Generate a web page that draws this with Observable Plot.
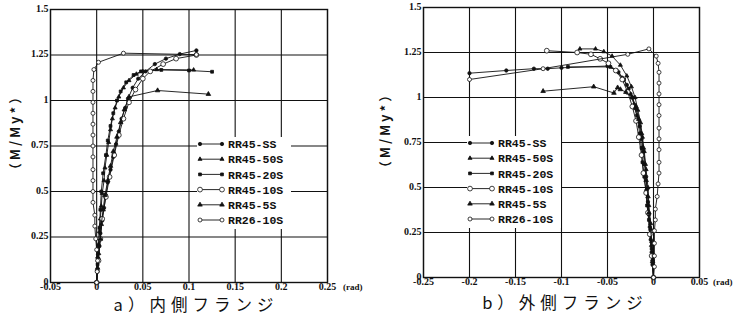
<!DOCTYPE html>
<html><head><meta charset="utf-8">
<script src="https://cdn.jsdelivr.net/npm/d3@7"></script>
<script src="https://cdn.jsdelivr.net/npm/@observablehq/plot@0.6"></script>
<style>
html,body{margin:0;padding:0;background:#fff;}
body{width:733px;height:324px;overflow:hidden;position:relative;}
.panel{position:absolute;top:0;}
.cap{position:absolute;font-family:"Noto Sans CJK JP",sans-serif;font-size:16.5px;line-height:1;letter-spacing:5px;color:#111;white-space:nowrap;transform:translateX(-50%);}
.ylab{position:absolute;font-family:"Noto Sans CJK JP",sans-serif;font-size:13px;line-height:1;font-weight:bold;color:#111;white-space:nowrap;transform:translate(-50%,-50%) rotate(-90deg);letter-spacing:3px;}
.rad{position:absolute;font-family:"Liberation Serif",serif;font-size:9px;font-weight:bold;color:#111;white-space:nowrap;}
.leg{position:absolute;}
</style>
</head><body>
<script>
// ---------- data ----------
const seriesNames = ["RR45-SS","RR45-50S","RR45-20S","RR45-10S","RR45-5S","RR26-10S"];
const yTicks = [0,0.25,0.5,0.75,1,1.25,1.5];
const innerXTicks = [-0.05,0,0.05,0.1,0.15,0.2,0.25];
const outerXTicks = [-0.25,-0.2,-0.15,-0.1,-0.05,0,0.05];
const captions = ["a）内側フランジ","b）外側フランジ"];
const yLabel = "（M/My*）";
const xUnit = "(rad)";

// a) inner flange  [rotation (rad), M/My*]
const innerSS  = [[0,0],[0.001,0.06],[0.002,0.13],[0.003,0.2],[0.004,0.27],[0.006,0.34],[0.008,0.41],[0.010,0.48],[0.012,0.55],[0.015,0.62],[0.018,0.69],[0.021,0.76],[0.024,0.83],[0.027,0.9],[0.031,0.96],[0.034,1.01],[0.039,1.07],[0.045,1.12],[0.053,1.16],[0.063,1.2],[0.075,1.23],[0.09,1.255],[0.108,1.275]];
const inner50S = [[0,0],[0.0005,0.07],[0.001,0.14],[0.002,0.21],[0.003,0.28],[0.004,0.35],[0.005,0.42],[0.006,0.49],[0.008,0.56],[0.009,0.63],[0.011,0.7],[0.013,0.77],[0.015,0.84],[0.017,0.9],[0.020,0.96],[0.024,1.02],[0.029,1.07],[0.035,1.11],[0.043,1.145],[0.05,1.16],[0.065,1.17],[0.105,1.168]];
const inner20S = [[0,0],[0.001,0.1],[0.002,0.2],[0.003,0.3],[0.004,0.4],[0.005,0.5],[0.007,0.6],[0.01,0.7],[0.012,0.78],[0.015,0.86],[0.018,0.93],[0.022,1.0],[0.026,1.05],[0.032,1.1],[0.04,1.14],[0.048,1.16],[0.07,1.168],[0.1,1.165],[0.125,1.158]];
const inner10S = [[0,0],[0.002,0.12],[0.004,0.24],[0.006,0.35],[0.010,0.47],[0.014,0.58],[0.019,0.7],[0.024,0.81],[0.029,0.9],[0.035,0.99],[0.042,1.06],[0.05,1.12],[0.058,1.16],[0.072,1.2],[0.086,1.23],[0.108,1.25]];
const inner5S  = [[0,0],[0.001,0.08],[0.002,0.16],[0.004,0.24],[0.005,0.32],[0.007,0.4],[0.009,0.48],[0.012,0.56],[0.015,0.64],[0.018,0.72],[0.022,0.8],[0.026,0.88],[0.03,0.95],[0.035,1.02],[0.066,1.055],[0.121,1.035]];
const innerRR26 = [[0,0],[0.0005,0.06],[0.001,0.12],[0,0.18],[-0.001,0.24],[-0.002,0.31],[-0.002,0.37],[-0.004,0.44],[-0.004,0.5],[-0.004,0.56],[-0.004,0.62],[-0.004,0.69],[-0.004,0.75],[-0.004,0.81],[-0.004,0.87],[-0.004,0.93],[-0.004,0.99],[-0.004,1.05],[-0.004,1.11],[-0.003,1.17],[0.002,1.21],[0.029,1.26],[0.108,1.252]];

// b) outer flange
const outerSS  = [[0,0],[-0.001,0.07],[-0.002,0.14],[-0.003,0.21],[-0.004,0.28],[-0.005,0.35],[-0.006,0.42],[-0.007,0.49],[-0.008,0.56],[-0.01,0.63],[-0.011,0.7],[-0.013,0.77],[-0.015,0.84],[-0.018,0.9],[-0.021,0.96],[-0.025,1.02],[-0.029,1.07],[-0.034,1.11],[-0.04,1.15],[-0.05,1.175],[-0.1,1.165],[-0.115,1.16],[-0.13,1.16],[-0.16,1.15],[-0.2,1.135]];
const outer50S = [[0,0],[-0.001,0.1],[-0.002,0.2],[-0.003,0.3],[-0.005,0.4],[-0.006,0.5],[-0.008,0.6],[-0.01,0.7],[-0.012,0.78],[-0.014,0.86],[-0.017,0.93],[-0.02,1.0],[-0.024,1.06],[-0.029,1.12],[-0.036,1.18],[-0.045,1.23],[-0.054,1.255],[-0.063,1.27],[-0.08,1.27]];
const outer20S = [[0,0],[-0.001,0.08],[-0.002,0.16],[-0.004,0.24],[-0.005,0.32],[-0.007,0.4],[-0.008,0.48],[-0.01,0.56],[-0.012,0.64],[-0.013,0.72],[-0.015,0.8],[-0.017,0.87],[-0.02,0.94],[-0.023,1.0],[-0.027,1.05],[-0.032,1.1],[-0.038,1.14],[-0.047,1.17],[-0.093,1.17]];
const outer10S = [[0,0],[-0.002,0.12],[-0.004,0.24],[-0.006,0.36],[-0.008,0.47],[-0.011,0.58],[-0.013,0.68],[-0.016,0.78],[-0.019,0.87],[-0.023,0.95],[-0.028,1.03],[-0.034,1.1],[-0.041,1.15],[-0.049,1.19],[-0.058,1.215],[-0.068,1.24],[-0.083,1.25],[-0.116,1.26]];
const outer5S  = [[0,0],[-0.001,0.09],[-0.002,0.18],[-0.003,0.27],[-0.005,0.36],[-0.006,0.45],[-0.008,0.54],[-0.009,0.63],[-0.011,0.72],[-0.013,0.8],[-0.016,0.88],[-0.019,0.95],[-0.023,1.0],[-0.03,1.03],[-0.036,1.045],[-0.039,1.055],[-0.043,1.025],[-0.065,1.06],[-0.12,1.035]];
const outerRR26 = [[0,0],[0.001,0.06],[0.001,0.12],[0.001,0.19],[0.001,0.26],[0.002,0.32],[0.002,0.38],[0.004,0.45],[0.005,0.52],[0.006,0.58],[0.006,0.64],[0.006,0.71],[0.006,0.77],[0.006,0.83],[0.006,0.9],[0.006,0.96],[0.006,1.02],[0.006,1.08],[0.006,1.14],[0.005,1.19],[0.003,1.23],[-0.005,1.27],[-0.028,1.24],[-0.12,1.16],[-0.2,1.1]];

const innerSeries = [innerSS, inner50S, inner20S, inner10S, inner5S, innerRR26];
const outerSeries = [outerSS, outer50S, outer20S, outer10S, outer5S, outerRR26];

// ---------- styles ----------
const markerStyle = {
  "RR45-SS":  {symbol:"circle",   fill:"#111", stroke:"#111", r:1.7},
  "RR45-50S": {symbol:"triangle", fill:"#111", stroke:"#111", r:1.5},
  "RR45-20S": {symbol:"square",   fill:"#111", stroke:"#111", r:1.6},
  "RR45-10S": {symbol:"circle",   fill:"#fff", stroke:"#111", r:2.4},
  "RR45-5S":  {symbol:"triangle", fill:"#111", stroke:"#111", r:1.7},
  "RR26-10S": {symbol:"circle",   fill:"#fff", stroke:"#111", r:2.0}
};

function toRows(seriesList){
  const rows = [];
  seriesList.forEach((pts,i)=>pts.forEach(([x,y])=>rows.push({s:seriesNames[i], x, y})));
  return rows;
}

function makePlot(seriesList, xDomain, xTicks, m){
  const rows = toRows(seriesList);
  const marks = [
    Plot.gridX(xTicks, {stroke:"#111", strokeOpacity:1, strokeWidth:1.1}),
    Plot.gridY(yTicks, {stroke:"#111", strokeOpacity:1, strokeWidth:1.1}),
    Plot.frame({stroke:"#111", strokeWidth:1.4}),
    Plot.axisX(xTicks, {tickSize:0, tickPadding:0, tickFormat:d=>String(d), label:null, fontWeight:"bold"}),
    Plot.axisY(yTicks, {tickSize:0, tickPadding:2, dy:-1, tickFormat:d=>String(d), label:null, fontWeight:"bold"})
  ];
  seriesNames.forEach(name=>{
    const st = markerStyle[name];
    const data = rows.filter(r=>r.s===name);
    marks.push(Plot.line(data, {x:"x", y:"y", stroke:"#111", strokeWidth:0.9}));
    marks.push(Plot.dot(data, {x:"x", y:"y", symbol:()=>st.symbol, r:st.r, fill:st.fill, stroke:st.stroke, strokeWidth:0.8}));
  });
  return Plot.plot({
    width:m.width, height:294,
    marginLeft:m.left, marginRight:m.right, marginTop:m.top, marginBottom:294-m.bottom,
    x:{domain:xDomain, label:null},
    y:{domain:[0,1.5], label:null},
    style:{fontFamily:"'Liberation Serif', serif", fontSize:"10px", color:"#111", background:"transparent", overflow:"visible"},
    marks
  });
}

function addPanel(left, seriesList, xDomain, xTicks, m, caption, capX, capY, ylabX, ylabY, radX, radY, legX, legY){
  const div = document.createElement("div");
  div.className = "panel";
  div.style.left = left + "px";
  div.appendChild(makePlot(seriesList, xDomain, xTicks, m));
  document.body.appendChild(div);

  // legend
  const legW = 94, legH = 92, rowH = 15.2;
  const svg = d3.create("svg").attr("class","leg").attr("width",legW).attr("height",legH)
    .style("left",(legX)+"px").style("top",(legY)+"px");
  svg.append("rect").attr("x",0).attr("y",0).attr("width",legW).attr("height",legH).attr("fill","#fff");
  seriesNames.forEach((name,i)=>{
    const st = markerStyle[name];
    const cy = 7 + i*rowH;
    const g = svg.append("g");
    g.append("line").attr("x1",3).attr("x2",25).attr("y1",cy).attr("y2",cy).attr("stroke","#111").attr("stroke-width",0.9);
    const sym = st.symbol==="circle"?d3.symbolCircle:st.symbol==="square"?d3.symbolSquare:d3.symbolTriangle;
    const size = Math.PI*st.r*st.r;
    [3,25].forEach(px=>{
      g.append("path").attr("d",d3.symbol(sym,size)()).attr("transform",`translate(${px},${cy})`)
        .attr("fill",st.fill).attr("stroke",st.stroke).attr("stroke-width",0.8);
    });
    g.append("text").attr("x",31).attr("y",cy).attr("dy","0.36em")
      .attr("font-family","'Liberation Mono', monospace").attr("font-weight","bold").attr("font-size","11.5px")
      .attr("fill","#111").text(name);
  });
  document.body.appendChild(svg.node());

  const c = document.createElement("div");
  c.className = "cap"; c.textContent = caption;
  c.style.left = capX + "px"; c.style.top = capY + "px";
  document.body.appendChild(c);

  const yl = document.createElement("div");
  yl.className = "ylab"; yl.textContent = yLabel;
  yl.style.left = ylabX + "px"; yl.style.top = ylabY + "px";
  document.body.appendChild(yl);

  const r = document.createElement("div");
  r.className = "rad"; r.textContent = xUnit;
  r.style.left = radX + "px"; r.style.top = radY + "px";
  document.body.appendChild(r);
}

addPanel(0, innerSeries, [-0.05,0.25], innerXTicks,
  {width:370, left:50, right:43, top:9, bottom:282},
  captions[0], 196, 296, 14, 132, 343, 282, 197, 137);
addPanel(370, outerSeries, [-0.25,0.05], outerXTicks,
  {width:363, left:53, right:34, top:7, bottom:277},
  captions[1], 565, 294, 384, 130, 713, 277, 467, 136);
</script>
</body></html>
